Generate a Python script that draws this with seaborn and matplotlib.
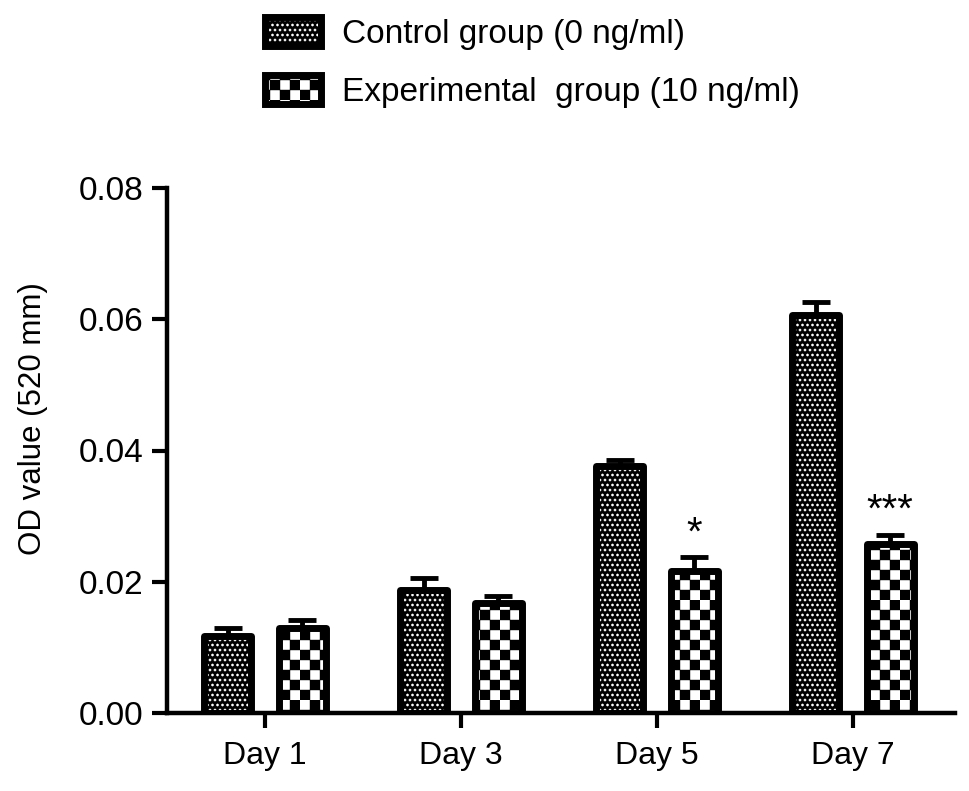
import warnings
import numpy as np
import pandas as pd
import matplotlib
matplotlib.use("Agg")
import matplotlib.pyplot as plt
import matplotlib.hatch as mhatch
from matplotlib.path import Path
from matplotlib.ticker import FormatStrFormatter
import seaborn as sns

warnings.filterwarnings("ignore")

# %% data
days = ["Day 1", "Day 3", "Day 5", "Day 7"]
groups = ["Control group (0 ng/ml)", "Experimental  group (10 ng/ml)"]
control = [0.0118, 0.0187, 0.0377, 0.0606]
control_err = [0.0012, 0.0019, 0.0009, 0.0020]
experimental = [0.0130, 0.0168, 0.0217, 0.0258]
experimental_err = [0.0011, 0.0011, 0.0020, 0.0014]
stars = ["", "", "*", "***"]


# %% two custom hatches: checkerboard ('c') and staggered dots ('d')
class CheckerHatch(mhatch.HatchPatternBase):
    def __init__(self, hatch, density):
        self.n = hatch.count("c") * 2
        self.cells = [(i, j) for i in range(self.n) for j in range(self.n)
                      if (i + j) % 2 == 0]
        self.num_vertices = len(self.cells) * 5

    def set_vertices_and_codes(self, vertices, codes):
        s = 1.0 / self.n
        sq = np.array([[0, 0], [1, 0], [1, 1], [0, 1], [0, 0]]) * s
        sq_codes = [Path.MOVETO, Path.LINETO, Path.LINETO, Path.LINETO, Path.CLOSEPOLY]
        for k, (i, j) in enumerate(self.cells):
            vertices[k * 5:(k + 1) * 5] = sq + [i * s, j * s]
            codes[k * 5:(k + 1) * 5] = sq_codes

    get_vertices_and_codes = set_vertices_and_codes


class DotHatch(mhatch.Circles):
    size = 0.22
    filled = True

    def __init__(self, hatch, density):
        self.num_rows = hatch.count("d") * 4
        super().__init__(hatch, density)


mhatch._hatch_types.extend([CheckerHatch, DotHatch])

# %%
sns.set_style("ticks")
plt.rcParams["font.family"] = ["Liberation Sans", "DejaVu Sans"]
plt.rcParams["hatch.linewidth"] = 0.3
for key in ["text.color", "axes.labelcolor", "xtick.color", "ytick.color", "axes.edgecolor"]:
    plt.rcParams[key] = "black"

df = pd.DataFrame({
    "day": days * 2,
    "group": [groups[0]] * len(days) + [groups[1]] * len(days),
    "od": control + experimental,
})

fig = plt.figure(figsize=(9.69, 7.91), dpi=100)
ax = fig.add_axes([167 / 969, 1 - 713 / 791, 788 / 969, 525 / 791])

sns.barplot(data=df, x="day", y="od", hue="group", order=days, hue_order=groups,
            palette=["black", "white"], width=0.76, gap=0.37, errorbar=None,
            edgecolor="black", linewidth=5, legend=False, ax=ax)

bars = list(ax.containers)
for cont, hatch, hcol in zip(bars, ["ddddd", "ccccc"], ["white", "black"]):
    for p in cont:
        p.set_hatch(hatch)
        p._hatch_color = matplotlib.colors.to_rgba(hcol)
        p.set_joinstyle("round")

for cont, err, marks in zip(bars, [control_err, experimental_err], [[""] * 4, stars]):
    xs = [p.get_x() + p.get_width() / 2 for p in cont]
    ys = [p.get_height() for p in cont]
    ax.errorbar(xs, ys, yerr=[np.zeros(len(err)), err], fmt="none", ecolor="black",
                elinewidth=3.5, capsize=10, capthick=3.5, zorder=0.9)
    for x, y, e, m in zip(xs, ys, err, marks):
        if m:
            ax.text(x, y + e + 0.0037, m, ha="center", va="center", fontsize=29)

ax.set_xlim(-0.5, 3.52)
ax.set_ylim(0, 0.08)
ax.set_yticks([0, 0.02, 0.04, 0.06, 0.08])
ax.yaxis.set_major_formatter(FormatStrFormatter("%.2f"))
ax.set_xlabel("")
ax.set_ylabel("OD value (520 mm)", fontsize=22.5, labelpad=22, y=0.56)
ax.tick_params(direction="out", length=11, width=3, color="black")
ax.tick_params(axis="y", pad=6, labelsize=24)
ax.tick_params(axis="x", pad=9, labelsize=23)
for side in ["left", "bottom"]:
    ax.spines[side].set_linewidth(3.2)
sns.despine(ax=ax)

fig.legend(handles=[bars[0][0], bars[1][0]], labels=groups, loc="upper left",
           bbox_to_anchor=(265 / 969, 1 - 17 / 791), frameon=False, fontsize=24,
           handlelength=1.68, handleheight=0.95, handletextpad=0.62,
           labelspacing=0.76, borderpad=0, borderaxespad=0)

fig.savefig("out.png", dpi=100)
